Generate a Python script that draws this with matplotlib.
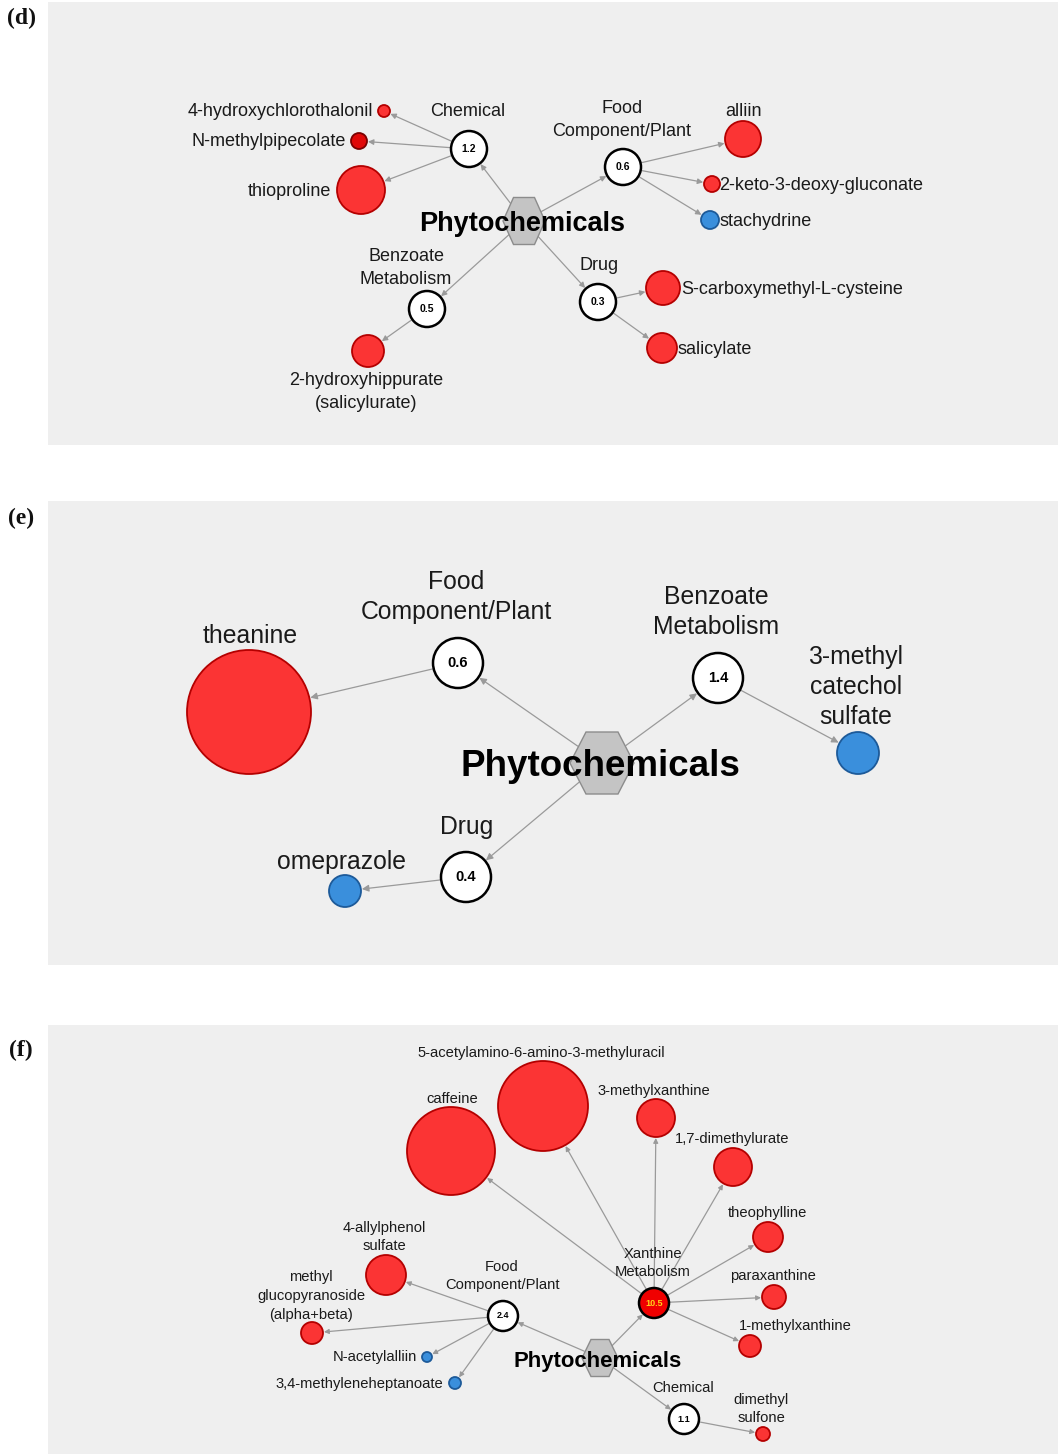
import matplotlib
matplotlib.use("Agg")
import matplotlib.pyplot as plt
from matplotlib.patches import Circle, Polygon, Rectangle, FancyArrowPatch
import numpy as np

plt.rcParams['font.family'] = ['Liberation Sans', 'DejaVu Sans']

# ---------------------------------------------------------------- data
HUB = "Phytochemicals"

# (d)
d_pathways = ["Chemical", "Food\nComponent/Plant", "Benzoate\nMetabolism", "Drug"]
d_pathway_values = [1.2, 0.6, 0.5, 0.3]
d_metabolites = ["4-hydroxychlorothalonil", "N-methylpipecolate", "thioproline",
                 "alliin", "2-keto-3-deoxy-gluconate", "stachydrine",
                 "2-hydroxyhippurate\n(salicylurate)",
                 "S-carboxymethyl-L-cysteine", "salicylate"]
d_metabolite_pathway = [0, 0, 0, 1, 1, 1, 2, 3, 3]
d_direction = ["up", "up_strong", "up", "up", "up", "down", "up", "up", "up"]

# (e)
e_pathways = ["Food\nComponent/Plant", "Benzoate\nMetabolism", "Drug"]
e_pathway_values = [0.6, 1.4, 0.4]
e_metabolites = ["theanine", "3-methyl\ncatechol\nsulfate", "omeprazole"]
e_metabolite_pathway = [0, 1, 2]
e_direction = ["up", "down", "down"]

# (f)
f_pathways = ["Xanthine\nMetabolism", "Food\nComponent/Plant", "Chemical"]
f_pathway_values = [10.5, 2.4, 1.1]
f_metabolites = ["caffeine", "5-acetylamino-6-amino-3-methyluracil", "3-methylxanthine",
                 "1,7-dimethylurate", "theophylline", "paraxanthine", "1-methylxanthine",
                 "4-allylphenol\nsulfate", "methyl\nglucopyranoside\n(alpha+beta)",
                 "N-acetylalliin", "3,4-methyleneheptanoate", "dimethyl\nsulfone"]
f_metabolite_pathway = [0, 0, 0, 0, 0, 0, 0, 1, 1, 1, 1, 2]
f_direction = ["up"] * 9 + ["down", "down", "up"]

# ---------------------------------------------------------------- layout (pixels)
layout_d = dict(
    box=(48, 2, 1058, 445), tag="(d)", tag_xy=(21, 18),
    hub_xy=(524, 221), hub_half=(21, 23.5), hub_fs=19.5,
    path_xy=[(469, 149), (623, 167), (427, 309), (598, 302)], path_r=18,
    path_lab=[(468, 112), (622, 120), (406, 268), (599, 265)],
    path_fs=13, val_fs=7.5, path_hi=[False] * 4,
    met_xy=[(384, 111), (359, 141), (361, 190), (743, 139), (712, 184), (710, 220),
            (368, 351), (663, 288), (662, 348)],
    met_r=[6, 8, 24, 18, 8, 9, 16, 17, 15],
    met_lab=[(373, 111, 'right'), (346, 142, 'right'), (331, 191, 'right'),
             (743, 111, 'center'), (719, 185, 'left'), (719, 221, 'left'),
             (366, 392, 'center'), (681, 289, 'left'), (678, 349, 'left')],
    met_fs=13, line_sp=1.4, arrow_scale=8,
)

layout_e = dict(
    box=(48, 501, 1058, 965), tag="(e)", tag_xy=(21, 518),
    hub_xy=(602, 763), hub_half=(32, 31), hub_fs=26.5,
    path_xy=[(458, 663), (718, 678), (466, 877)], path_r=25,
    path_lab=[(456, 597), (716, 612), (467, 827)],
    path_fs=17.8, val_fs=10.5, path_hi=[False] * 3,
    met_xy=[(249, 712), (858, 753), (345, 891)],
    met_r=[62, 21, 16],
    met_lab=[(250, 636, 'center'), (856, 687, 'center'), (342, 862, 'center')],
    met_fs=17.8, line_sp=1.32, arrow_scale=10,
)

layout_f = dict(
    box=(48, 1025, 1058, 1454), tag="(f)", tag_xy=(21, 1050),
    hub_xy=(600, 1358), hub_half=(18, 18.5), hub_fs=15.9,
    path_xy=[(654, 1303), (503, 1316), (684, 1419)], path_r=15,
    path_lab=[(653, 1263), (502, 1276), (683, 1388)],
    path_fs=10.6, val_fs=6.5, path_hi=[True, False, False],
    met_xy=[(451, 1151), (543, 1106), (656, 1118), (733, 1167), (768, 1237),
            (774, 1297), (750, 1346), (386, 1275), (312, 1333), (427, 1357),
            (455, 1383), (763, 1434)],
    met_r=[44, 45, 19, 19, 15, 12, 11, 20, 11, 5, 6, 7],
    met_lab=[(452, 1099, 'center'), (541, 1053, 'center'), (654, 1091, 'center'),
             (732, 1139, 'center'), (767, 1213, 'center'), (773, 1276, 'center'),
             (795, 1326, 'center'), (384, 1237, 'center'), (311, 1296, 'center'),
             (417, 1357, 'right'), (443, 1384, 'right'), (761, 1409, 'center')],
    met_fs=10.6, line_sp=1.42, arrow_scale=7,
)

# ---------------------------------------------------------------- styles
PANEL_BG = "#efefef"
EDGE_COLOR = "#9a9a9a"
TEXT_COLOR = "#1a1a1a"
NODE_STYLE = {
    "up": dict(fc="#fb3434", ec="#b40000"),
    "up_strong": dict(fc="#e00808", ec="#7a0000"),
    "down": dict(fc="#3a8fdc", ec="#1d5a99"),
}

W, H = 1058, 1454
fig = plt.figure(figsize=(W / 100, H / 100), dpi=100)
ax = fig.add_axes([0, 0, 1, 1])
ax.set_xlim(0, W)
ax.set_ylim(H, 0)
ax.set_aspect('equal')
ax.axis('off')


def edge(p, q, r_from, r_to, scale):
    p, q = np.asarray(p, float), np.asarray(q, float)
    u = (q - p) / np.hypot(*(q - p))
    a = p + u * r_from
    b = q - u * r_to
    ax.add_patch(FancyArrowPatch(a, b, arrowstyle='-|>', mutation_scale=scale,
                                 color=EDGE_COLOR, lw=0.9, shrinkA=0, shrinkB=0,
                                 zorder=1))


def draw_panel(pathways, values, metabolites, met_path, direction, L):
    x0, y0, x1, y1 = L["box"]
    ax.add_patch(Rectangle((x0, y0), x1 - x0, y1 - y0, fc=PANEL_BG, ec="none", zorder=0))
    ax.text(*L["tag_xy"], L["tag"], family=["Liberation Serif"], fontweight="bold",
            fontsize=17, ha="center", va="center", color="#111111")

    hx, hy = L["hub_xy"]
    hw, hh = L["hub_half"]
    hex_pts = [(hx - hw, hy), (hx - hw / 2, hy - hh), (hx + hw / 2, hy - hh),
               (hx + hw, hy), (hx + hw / 2, hy + hh), (hx - hw / 2, hy + hh)]
    ax.add_patch(Polygon(hex_pts, closed=True, fc="#c4c4c4", ec="#8c8c8c", lw=1.0, zorder=3))
    hub_r = 0.95 * min(hw, hh)

    pr = L["path_r"]
    for i, (name, val) in enumerate(zip(pathways, values)):
        px, py = L["path_xy"][i]
        edge((hx, hy), (px, py), hub_r, pr + 1, L["arrow_scale"])
        hi = L["path_hi"][i]
        ax.add_patch(Circle((px, py), pr, fc="#f00000" if hi else "white",
                            ec="black", lw=1.8, zorder=3))
        ax.text(px, py, f"{val:.1f}", ha="center", va="center", fontsize=L["val_fs"],
                fontweight="bold", color="#ffd21a" if hi else "black", zorder=4)
        lx, ly = L["path_lab"][i]
        ax.text(lx, ly, name, ha="center", va="center", fontsize=L["path_fs"],
                color=TEXT_COLOR, linespacing=L["line_sp"], zorder=5)

    for j, (name, k, dr) in enumerate(zip(metabolites, met_path, direction)):
        mx, my = L["met_xy"][j]
        mr = L["met_r"][j]
        px, py = L["path_xy"][k]
        edge((px, py), (mx, my), pr + 1, mr + 1, L["arrow_scale"])
        st = NODE_STYLE[dr]
        ax.add_patch(Circle((mx, my), mr, fc=st["fc"], ec=st["ec"], lw=1.3, zorder=3))
        lx, ly, ha = L["met_lab"][j]
        ax.text(lx, ly, name, ha=ha, va="center", fontsize=L["met_fs"],
                color=TEXT_COLOR, linespacing=L["line_sp"], multialignment="center",
                zorder=5)

    ax.text(hx - 2, hy + 3, HUB, ha="center", va="center", fontsize=L["hub_fs"],
            fontweight="bold", color="black", zorder=6)


draw_panel(d_pathways, d_pathway_values, d_metabolites, d_metabolite_pathway,
           d_direction, layout_d)
draw_panel(e_pathways, e_pathway_values, e_metabolites, e_metabolite_pathway,
           e_direction, layout_e)
draw_panel(f_pathways, f_pathway_values, f_metabolites, f_metabolite_pathway,
           f_direction, layout_f)

fig.savefig("out.png", dpi=100, facecolor="white")
